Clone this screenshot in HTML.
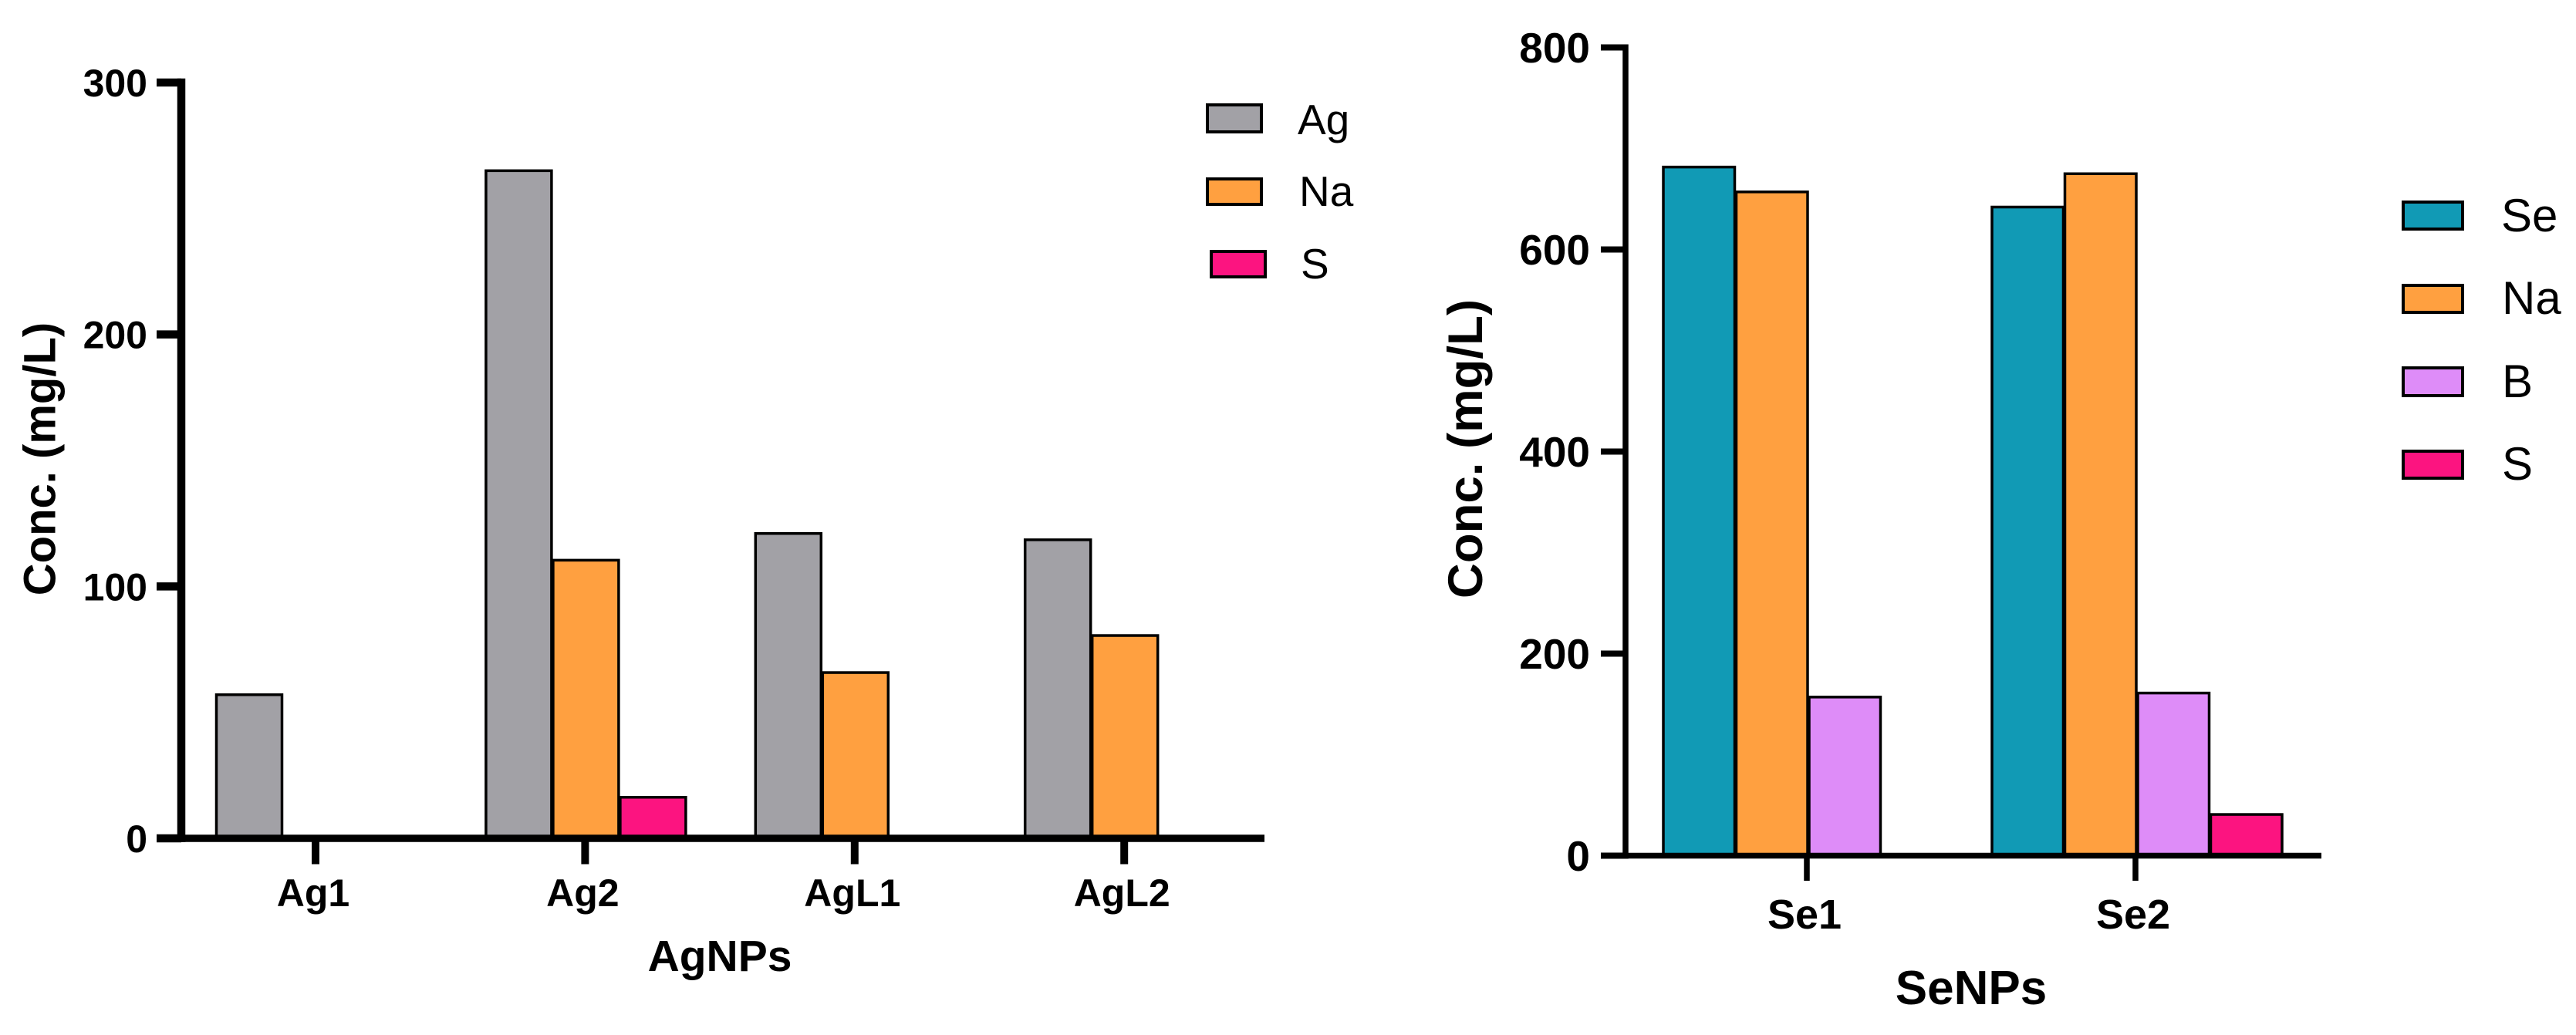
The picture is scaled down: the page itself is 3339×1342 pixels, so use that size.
<!DOCTYPE html>
<html lang="en">
<head>
<meta charset="utf-8">
<title>AgNPs and SeNPs concentration charts</title>
<style>
html,body{margin:0;padding:0;background:#fff;width:3339px;height:1342px;overflow:hidden}
svg{display:block}
text{font-family:"Liberation Sans",Arial,sans-serif;fill:#000}
.b{font-weight:700}
</style>
</head>
<body>
<svg id="fig" xmlns="http://www.w3.org/2000/svg" width="3339" height="1342" viewBox="0 0 3339 1342">
  <rect width="3339" height="1342" fill="#ffffff"/>
  <g id="left-chart"></g>
  <g id="right-chart"></g>

  <text class="b" font-size="58" text-anchor="middle" transform="translate(71.5,595) rotate(-90)">Conc. (mg/L)</text>
  <text class="b" font-size="57" text-anchor="middle" x="933" y="1259">AgNPs</text>
  <text class="b" font-size="63.5" text-anchor="middle" transform="translate(1921,582) rotate(-90)">Conc. (mg/L)</text>
  <text class="b" font-size="62" text-anchor="middle" x="2555" y="1302">SeNPs</text>

  <g stroke-width="4">
    <rect x="1565" y="136" width="70" height="35" fill="#a2a1a6" stroke="#000"/>
    <text x="1682" y="174" font-size="55" stroke="none">Ag</text>
    <rect x="1565" y="232" width="70" height="33" fill="#ffa040" stroke="#000"/>
    <text x="1684" y="267" font-size="55" stroke="none">Na</text>
    <rect x="1570" y="326" width="70" height="33" fill="#fc1480" stroke="#000"/>
    <text x="1686" y="361" font-size="55" stroke="none">S</text>
  </g>

  <g stroke-width="4">
    <rect x="3115" y="262" width="77" height="35" fill="#119ab5" stroke="#000"/>
    <text x="3242" y="300" font-size="60" stroke="none">Se</text>
    <rect x="3115" y="370" width="77" height="35" fill="#ffa040" stroke="#000"/>
    <text x="3243" y="407" font-size="60" stroke="none">Na</text>
    <rect x="3115" y="477" width="77" height="36" fill="#de8cf8" stroke="#000"/>
    <text x="3243" y="515" font-size="60" stroke="none">B</text>
    <rect x="3115" y="585" width="77" height="35" fill="#fc1480" stroke="#000"/>
    <text x="3243" y="622" font-size="60" stroke="none">S</text>
  </g>
</svg>
<script>
// Left chart data
const agCategories = ["Ag1", "Ag2", "AgL1", "AgL2"];
const agSeriesNames = ["Ag", "Na", "S"];
const agValues = [57, 265, 121, 118.5];
const agNaValues = [0, 110.4, 65.8, 80.5];
const agSValues = [0, 16.3, 0, 0];
const agTicks = [0, 100, 200, 300];

// Right chart data
const seCategories = ["Se1", "Se2"];
const seSeriesNames = ["Se", "Na", "B", "S"];
const seValues = [681.6, 642];
const seNaValues = [657, 675];
const seBValues = [157, 161];
const seSValues = [0, 40.8];
const seTicks = [0, 200, 400, 600, 800];

const agColors = ["#a2a1a6", "#ffa040", "#fc1480"];
const seColors = ["#119ab5", "#ffa040", "#de8cf8", "#fc1480"];

const NS = "http://www.w3.org/2000/svg";
function make(tag, parent, attrs, content) {
  const el = document.createElementNS(NS, tag);
  Object.keys(attrs).forEach(function (k) { el.setAttribute(k, attrs[k]); });
  if (content !== undefined) el.textContent = content;
  parent.appendChild(el);
  return el;
}

// Axis functions
function yAg(v) { return 1087 - v * (980 / 300); }
function xAg(i) { return 409 + i * 349.4; }
function ySe(v) { return 1109.5 - v * (1048 / 800); }
function xSe(i) { return 2343 + i * 426; }

// Left chart
const leftG = document.getElementById("left-chart");
const agBarWidth = 87;
[agValues, agNaValues, agSValues].forEach(function (series, s) {
  series.forEach(function (v, i) {
    const bar = make("rect", leftG, {
      x: xAg(i) + (s - 1.5) * agBarWidth + 2,
      y: yAg(v),
      width: agBarWidth - 2,
      height: yAg(0) - yAg(v),
      fill: agColors[s],
      stroke: "#000",
      "stroke-width": 3.5
    });
    
    
  });
});
const leftYAxis = make("line", leftG, { x1: 235, x2: 235, y1: yAg(300) - 5.25, y2: yAg(0) + 5, stroke: "#000", "stroke-width": 10.5 });


const leftXAxis = make("line", leftG, { x1: 203, x2: 1639, y1: yAg(0), y2: yAg(0), stroke: "#000", "stroke-width": 9.5 });


agTicks.forEach(function (t) {
  const tick = make("line", leftG, { x1: 203, x2: 235, y1: yAg(t), y2: yAg(t), stroke: "#000", "stroke-width": 10.5 });
  
  
  const lab = make("text", leftG, { x: 191, y: yAg(t) + 18, "text-anchor": "end", "font-size": 50, "font-weight": 700 }, String(t));
  
  
});
agCategories.forEach(function (c, i) {
  const tick = make("line", leftG, { x1: xAg(i), x2: xAg(i), y1: yAg(0), y2: 1120.5, stroke: "#000", "stroke-width": 10 });
  
  
  const lab = make("text", leftG, { x: xAg(i) - 3, y: 1175, "text-anchor": "middle", "font-size": 50, "font-weight": 700 }, c);
  
  
});

// Right chart
const rightG = document.getElementById("right-chart");
const seBarWidth = 94.5;
[seValues, seNaValues, seBValues, seSValues].forEach(function (series, s) {
  series.forEach(function (v, i) {
    const bar = make("rect", rightG, {
      x: xSe(i) + (s - 2) * seBarWidth + 2,
      y: ySe(v),
      width: seBarWidth - 2,
      height: ySe(0) - ySe(v),
      fill: seColors[s],
      stroke: "#000",
      "stroke-width": 3.5
    });
    
    
  });
});
const rightYAxis = make("line", rightG, { x1: 2107, x2: 2107, y1: ySe(800) - 4, y2: ySe(0) + 4, stroke: "#000", "stroke-width": 7.5 });


const rightXAxis = make("line", rightG, { x1: 2075, x2: 3009, y1: ySe(0), y2: ySe(0), stroke: "#000", "stroke-width": 7.5 });


seTicks.forEach(function (t) {
  const tick = make("line", rightG, { x1: 2075, x2: 2107, y1: ySe(t), y2: ySe(t), stroke: "#000", "stroke-width": 8 });
  
  
  const lab = make("text", rightG, { x: 2061, y: ySe(t) + 19.5, "text-anchor": "end", "font-size": 55, "font-weight": 700 }, String(t));
  
  
});
seCategories.forEach(function (c, i) {
  const tick = make("line", rightG, { x1: xSe(i) - 1, x2: xSe(i) - 1, y1: ySe(0), y2: 1142, stroke: "#000", "stroke-width": 7.5 });
  
  
  const lab = make("text", rightG, { x: xSe(i) - 4, y: 1204, "text-anchor": "middle", "font-size": 54, "font-weight": 700 }, c);
  
  
});
</script>
</body>
</html>
